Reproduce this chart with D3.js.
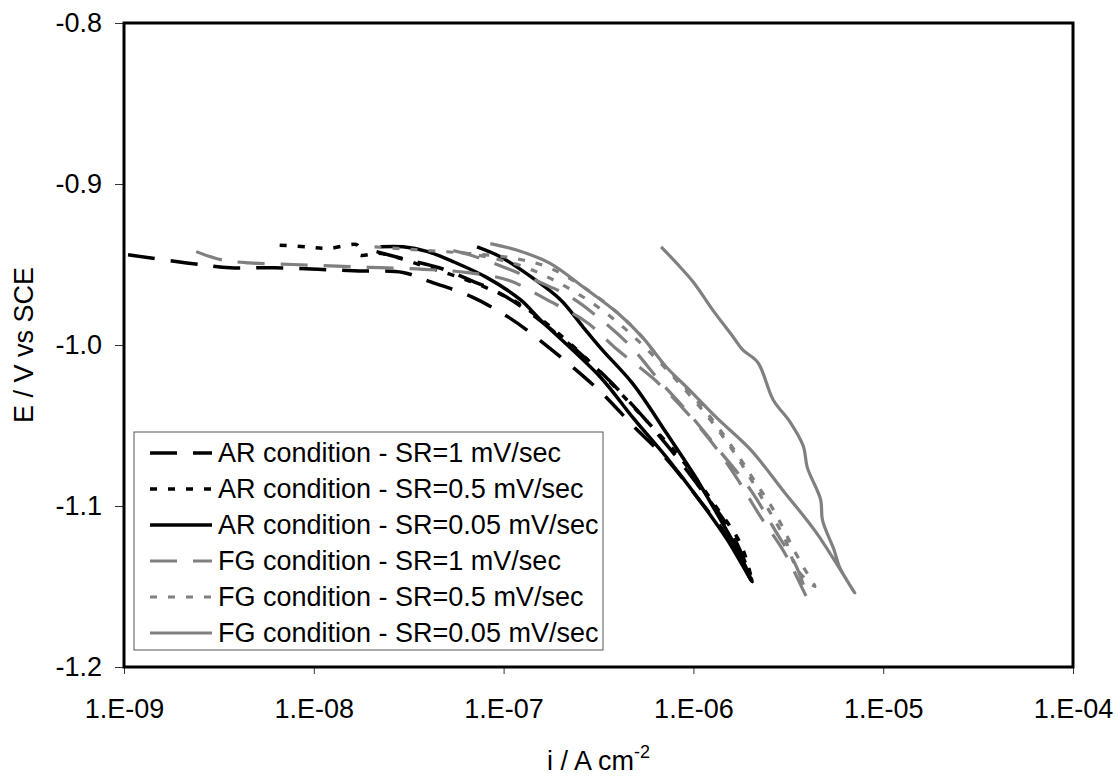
<!DOCTYPE html>
<html>
<head>
<meta charset="utf-8">
<script src="https://cdn.jsdelivr.net/npm/d3@7"></script>
<style>
	body { margin: 0; background: #fff; }
	text { font-family: 'Liberation Sans', Arial, sans-serif; fill: #000; }
</style>
</head>
<body>
<svg id="chart"></svg>
<script>
// tick values and labels
const xTicks = [1e-9, 1e-8, 1e-7, 1e-6, 1e-5, 1e-4];
const yTicks = [-1.2, -1.1, -1.0, -0.9, -0.8];
const seriesNames = [
	'AR condition - SR=1 mV/sec',
	'AR condition - SR=0.5 mV/sec',
	'AR condition - SR=0.05 mV/sec',
	'FG condition - SR=1 mV/sec',
	'FG condition - SR=0.5 mV/sec',
	'FG condition - SR=0.05 mV/sec'
];

// current density (A cm-2) and potential (V vs SCE)
const arFastI = [1.05e-9, 2.14e-9, 3.63e-9, 6.17e-9, 1.05e-8, 1.74e-8, 2.95e-8, 4.17e-8, 6.76e-8, 1.07e-7, 1.55e-7, 3.24e-7, 4.79e-7, 7.24e-7, 1.07e-6, 1.51e-6, 2.04e-6,
	1.58e-6, 1.12e-6, 7.59e-7, 5.01e-7, 3.39e-7, 2.09e-7, 1.20e-7, 8.91e-8, 6.76e-8, 4.57e-8, 3.09e-8, 2.14e-8];
const arFastE = [-0.944, -0.949, -0.952, -0.952, -0.953, -0.954, -0.955, -0.961, -0.970, -0.983, -0.997, -1.029, -1.050, -1.071, -1.096, -1.119, -1.147,
	-1.116, -1.091, -1.065, -1.040, -1.019, -0.997, -0.975, -0.966, -0.960, -0.952, -0.947, -0.942];

const arMidI = [6.61e-9, 9.12e-9, 1.20e-8, 1.70e-8, 1.74e-8, 2.19e-8, 2.82e-8, 3.80e-8, 4.90e-8, 7.59e-8, 1.23e-7, 2.00e-7, 3.24e-7, 5.25e-7, 8.51e-7, 1.29e-6, 1.78e-6, 2.04e-6];
const arMidE = [-0.938, -0.939, -0.940, -0.938, -0.944, -0.943, -0.946, -0.951, -0.955, -0.963, -0.975, -0.994, -1.017, -1.043, -1.070, -1.099, -1.124, -1.147];

const arSlowI = [2.24e-8, 2.95e-8, 3.98e-8, 5.37e-8, 8.13e-8, 1.23e-7, 1.55e-7, 3.24e-7, 4.79e-7, 7.24e-7, 1.07e-6, 1.51e-6, 2.04e-6,
	1.70e-6, 1.32e-6, 1.00e-6, 7.24e-7, 4.79e-7, 3.31e-7, 2.63e-7, 2.00e-7, 1.41e-7, 9.55e-8, 7.24e-8];
const arSlowE = [-0.939, -0.939, -0.942, -0.948, -0.958, -0.972, -0.984, -1.020, -1.045, -1.070, -1.096, -1.121, -1.147,
	-1.127, -1.104, -1.080, -1.055, -1.024, -1.003, -0.989, -0.972, -0.958, -0.945, -0.939];

const fgFastI = [2.40e-9, 3.24e-9, 4.57e-9, 7.76e-9, 1.32e-8, 2.24e-8, 3.80e-8, 6.46e-8, 1.07e-7, 1.70e-7, 2.75e-7, 3.98e-7, 6.17e-7, 8.91e-7, 1.26e-6, 1.70e-6, 2.24e-6, 3.02e-6, 3.98e-6,
	3.47e-6, 2.69e-6, 2.00e-6, 1.38e-6, 9.55e-7, 6.61e-7, 4.68e-7, 3.24e-7, 2.24e-7, 1.55e-7, 1.02e-7, 6.61e-8, 5.25e-8];
const fgFastE = [-0.942, -0.947, -0.949, -0.950, -0.951, -0.952, -0.953, -0.955, -0.960, -0.972, -0.986, -1.003, -1.021, -1.040, -1.061, -1.083, -1.106, -1.129, -1.157,
	-1.137, -1.115, -1.090, -1.066, -1.043, -1.022, -1.001, -0.984, -0.970, -0.961, -0.952, -0.944, -0.941];

const fgMidI = [2.09e-8, 3.63e-8, 6.31e-8, 1.12e-7, 1.74e-7, 2.63e-7, 3.80e-7, 5.37e-7, 7.08e-7, 9.33e-7, 1.29e-6, 1.55e-6, 1.82e-6, 2.14e-6, 2.51e-6, 2.95e-6, 3.31e-6, 3.80e-6, 4.37e-6,
	3.55e-6, 3.02e-6, 2.51e-6, 2.00e-6, 1.58e-6, 1.20e-6, 8.91e-7, 6.31e-7, 4.37e-7, 3.02e-7, 2.00e-7, 1.32e-7, 8.71e-8, 5.62e-8];
const fgMidE = [-0.939, -0.941, -0.943, -0.946, -0.952, -0.964, -0.978, -0.995, -1.013, -1.028, -1.048, -1.061, -1.073, -1.086, -1.098, -1.113, -1.125, -1.138, -1.150,
	-1.140, -1.120, -1.103, -1.083, -1.064, -1.045, -1.027, -1.008, -0.990, -0.975, -0.962, -0.952, -0.946, -0.942];

const fgSlowI = [8.51e-8, 1.17e-7, 1.74e-7, 2.63e-7, 3.98e-7, 5.37e-7, 7.24e-7, 9.55e-7, 1.32e-6, 2.00e-6, 2.95e-6, 4.47e-6, 7.08e-6,
	5.89e-6, 5.50e-6, 4.79e-6, 4.68e-6, 3.98e-6, 3.80e-6, 3.24e-6, 2.63e-6, 2.19e-6, 1.82e-6, 1.62e-6, 1.26e-6, 1.00e-6, 8.13e-7, 6.76e-7];
const fgSlowE = [-0.937, -0.941, -0.949, -0.964, -0.980, -0.995, -1.014, -1.028, -1.045, -1.065, -1.090, -1.117, -1.154,
	-1.138, -1.127, -1.109, -1.096, -1.076, -1.063, -1.048, -1.034, -1.011, -1.003, -0.995, -0.978, -0.961, -0.949, -0.939];

const seriesI = [arFastI, arMidI, arSlowI, fgFastI, fgMidI, fgSlowI];
const seriesE = [arFastE, arMidE, arSlowE, fgFastE, fgMidE, fgSlowE];

// styles
const grey = '#808080';
const seriesColors = ['#000', '#000', '#000', grey, grey, grey];
const seriesDash = ['27,16', '7,11', null, '27,16', '7,11', null];
const seriesWidth = [3.5, 3.5, 3.5, 3.2, 3.2, 3.2];

const svgWidth = 1118;
const svgHeight = 777;
const plot = { left: 124, right: 1073, top: 23, bottom: 667 };

const svg = d3.select('#chart')
	.attr('width', svgWidth)
	.attr('height', svgHeight);

const x = d3.scaleLog()
	.domain([1e-9, 1e-4]).range([plot.left, plot.right]);
const y = d3.scaleLinear()
	.domain([-1.2, -0.8]).range([plot.bottom, plot.top]);

svg.append('rect')
	.attr('width', svgWidth).attr('height', svgHeight)
	.attr('fill', '#fff');

// axes
const xAxis = svg.append('g')
	.attr('transform', `translate(0,${plot.bottom})`)
	.call(d3.axisBottom(x)
		.tickValues(xTicks)
		.tickSize(7)
		.tickPadding(25)
		.tickFormat(d => '1.E-' + String(-Math.round(Math.log10(d))).padStart(2, '0')));
const yAxis = svg.append('g')
	.attr('transform', `translate(${plot.left},0)`)
	.call(d3.axisLeft(y)
		.tickValues(yTicks)
		.tickSize(9)
		.tickPadding(13)
		.tickFormat(d => d.toFixed(1)));

[xAxis, yAxis].forEach(axis => {
	axis.select('.domain').remove();
	axis.selectAll('.tick line').attr('stroke', '#333').attr('stroke-width', 1);
	axis.selectAll('.tick text')
		.attr('font-size', 27)
		.attr('fill', '#000')
		.style('font-family', "'Liberation Sans', Arial, sans-serif");
});

// curves
const line = d3.line()
	.x(d => x(d[0]))
	.y(d => y(d[1]))
	.curve(d3.curveCatmullRom.alpha(0.5));

seriesNames.forEach((name, k) => {
	svg.append('path')
		.datum(d3.zip(seriesI[k], seriesE[k]))
		.attr('d', line)
		.attr('fill', 'none')
		.attr('stroke', seriesColors[k])
		.attr('stroke-width', seriesWidth[k])
		.attr('stroke-dasharray', seriesDash[k])
		.attr('stroke-linejoin', 'round');
});

// plot frame
svg.append('rect')
	.attr('x', plot.left).attr('y', plot.top)
	.attr('width', plot.right - plot.left).attr('height', plot.bottom - plot.top)
	.attr('fill', 'none')
	.attr('stroke', '#000')
	.attr('stroke-width', 3);

// axis titles
const xTitle = svg.append('text')
	.attr('x', (plot.left + plot.right) / 2)
	.attr('y', 770)
	.attr('text-anchor', 'middle')
	.attr('font-size', 27);
xTitle.append('tspan').text('i / A cm');
xTitle.append('tspan').attr('dy', -12).attr('font-size', 18).text('-2');

svg.append('text')
	.attr('transform', `translate(33,${(plot.top + plot.bottom) / 2}) rotate(-90)`)
	.attr('text-anchor', 'middle')
	.attr('font-size', 27)
	.text('E / V vs SCE');

// legend
const legend = svg.append('g');
legend.append('rect')
	.attr('x', 134).attr('y', 432)
	.attr('width', 469).attr('height', 218)
	.attr('fill', '#fff')
	.attr('stroke', '#555')
	.attr('stroke-width', 1);

seriesNames.forEach((name, k) => {
	const rowY = 453 + k * 36;
	legend.append('line')
		.attr('x1', 150).attr('x2', 212)
		.attr('y1', rowY).attr('y2', rowY)
		.attr('stroke', seriesColors[k])
		.attr('stroke-width', seriesWidth[k])
		.attr('stroke-dasharray', seriesDash[k]);
	legend.append('text')
		.attr('x', 218).attr('y', rowY)
		.attr('dy', '0.35em')
		.attr('font-size', 27)
		.text(name);
});
</script>
</body>
</html>
